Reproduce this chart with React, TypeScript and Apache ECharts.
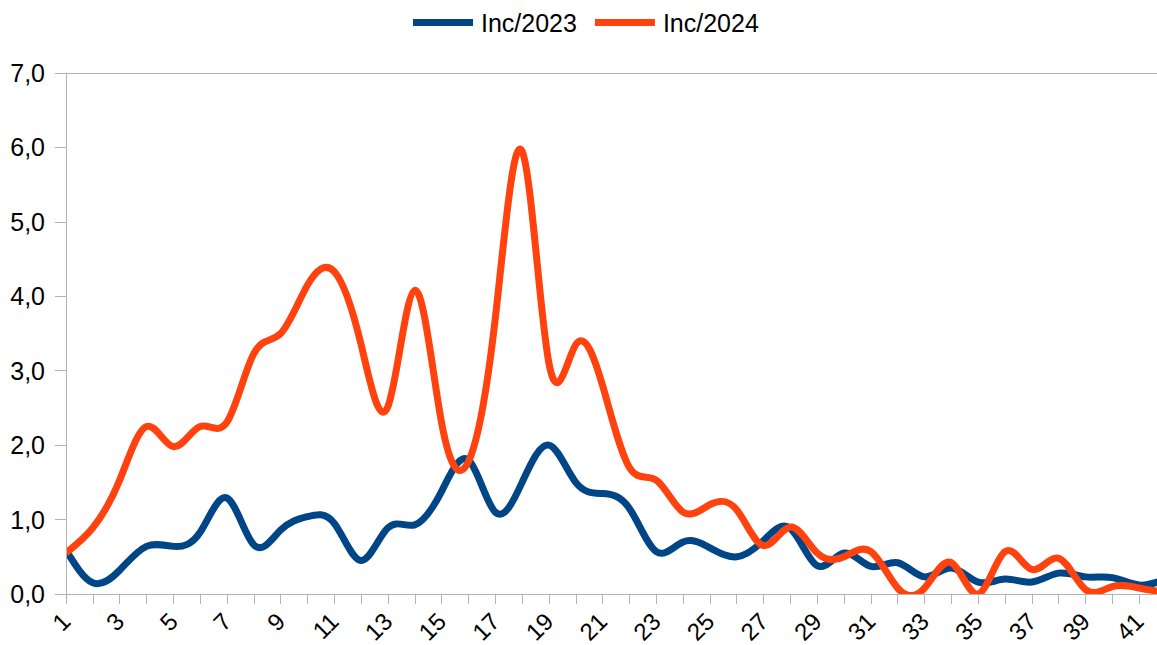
import React, { useEffect, useRef } from "react";
import * as echarts from "echarts";

const categories = [
  "1", "2", "3", "4", "5", "6", "7", "8", "9", "10",
  "11", "12", "13", "14", "15", "16", "17", "18", "19", "20",
  "21", "22", "23", "24", "25", "26", "27", "28", "29", "30",
  "31", "32", "33", "34", "35", "36", "37", "38", "39", "40",
  "41", "42",
];

const inc2023 = [
  0.59, 0.15, 0.32, 0.64, 0.64, 0.83, 1.29, 0.66, 0.86, 1.04,
  0.95, 0.45, 0.89, 0.93, 1.38, 1.8, 1.1, 1.5, 2.0, 1.5,
  1.35, 1.15, 0.57, 0.7, 0.62, 0.5, 0.72, 0.88, 0.38, 0.55,
  0.37, 0.42, 0.23, 0.35, 0.16, 0.2, 0.16, 0.28, 0.23, 0.22,
  0.12, 0.2,
];

const inc2024 = [
  0.55, 0.89, 1.53, 2.25, 1.98, 2.25, 2.31, 3.23, 3.5, 4.15,
  4.33, 3.35, 2.52, 4.08, 2.3, 1.78, 3.7, 5.95, 3.1, 3.35,
  2.8, 1.7, 1.53, 1.1, 1.2, 1.13, 0.65, 0.9, 0.55, 0.5,
  0.57, 0.08, 0.08, 0.42, 0.0, 0.57, 0.33, 0.48, 0.06, 0.1,
  0.08, 0.02,
];

const seriesNames = ["Inc/2023", "Inc/2024"];
const yMin = 0;
const yMax = 7;
const yStep = 1;

const BLUE = "#004586";
const ORANGE = "#ff420e";
const AXIS = "#b3b3b3";
const FONT = "'Liberation Sans', Arial, sans-serif";

// Natural cubic spline through pixel points (uniform x), returned as SVG path data.
function splinePath(pts: number[][]): string {
  const n = pts.length;
  if (n < 2) return "";
  const h = (pts[n - 1][0] - pts[0][0]) / (n - 1);
  const y = pts.map((p) => p[1]);
  const M = new Array(n).fill(0);
  const m = n - 2;
  if (m > 0) {
    const a = new Array(m).fill(1);
    const b = new Array(m).fill(4);
    const c = new Array(m).fill(1);
    const d = new Array(m);
    for (let i = 0; i < m; i++) {
      d[i] = (6 * (y[i + 2] - 2 * y[i + 1] + y[i])) / (h * h);
    }
    for (let i = 1; i < m; i++) {
      const w = a[i] / b[i - 1];
      b[i] -= w * c[i - 1];
      d[i] -= w * d[i - 1];
    }
    const sol = new Array(m);
    sol[m - 1] = d[m - 1] / b[m - 1];
    for (let i = m - 2; i >= 0; i--) sol[i] = (d[i] - c[i] * sol[i + 1]) / b[i];
    for (let i = 0; i < m; i++) M[i + 1] = sol[i];
  }
  let path = `M${pts[0][0]},${pts[0][1]}`;
  for (let i = 0; i < n - 1; i++) {
    const x0 = pts[i][0];
    const x1 = pts[i + 1][0];
    const hh = x1 - x0;
    const s = (y[i + 1] - y[i]) / hh;
    const d0 = s - (hh * (2 * M[i] + M[i + 1])) / 6;
    const d1 = s + (hh * (M[i] + 2 * M[i + 1])) / 6;
    const c1x = x0 + hh / 3;
    const c1y = y[i] + (d0 * hh) / 3;
    const c2x = x1 - hh / 3;
    const c2y = y[i + 1] - (d1 * hh) / 3;
    path += ` C${c1x},${c1y} ${c2x},${c2y} ${x1},${y[i + 1]}`;
  }
  return path;
}

function makeSeries(name: string, values: number[], color: string, z: number) {
  return {
    name,
    type: "custom",
    clip: true,
    z,
    itemStyle: { color },
    encode: { x: 0, y: 1 },
    data: values.map((v, i) => [i, v]),
    renderItem: (params: any, api: any) => {
      if (params.dataIndex !== 0) return null;
      const pts = values.map((v, i) => api.coord([i, v]));
      return {
        type: "path",
        shape: { pathData: splinePath(pts) },
        style: { fill: "none", stroke: color, lineWidth: 7 },
      };
    },
  };
}

export default function App() {
  const ref = useRef<HTMLDivElement>(null);

  useEffect(() => {
    if (!ref.current) return;
    const chart = echarts.init(ref.current, undefined, { renderer: "svg" });
    chart.setOption({
      animation: false,
      backgroundColor: "#ffffff",
      textStyle: { fontFamily: FONT },
      legend: {
        data: seriesNames,
        left: 408,
        top: 5,
        icon: "rect",
        itemWidth: 60,
        itemHeight: 7,
        itemGap: 18,
        textStyle: { fontSize: 25, color: "#000", fontFamily: FONT, padding: [0, 0, 0, 3] },
      },
      grid: {
        left: 66,
        right: -9,
        top: 73,
        bottom: 51,
        containLabel: false,
        outerBoundsMode: "none",
      },
      xAxis: [
        {
          type: "category",
          data: categories,
          boundaryGap: false,
          z: 10,
          axisLine: { show: true, lineStyle: { color: AXIS, width: 1 } },
          axisTick: { show: true, interval: 0, length: 10, lineStyle: { color: AXIS } },
          axisLabel: {
            interval: 1,
            rotate: 45,
            margin: 23,
            fontSize: 24,
            color: "#000",
            fontFamily: FONT,
          },
          splitLine: { show: false },
        },
        {
          type: "category",
          data: categories,
          boundaryGap: false,
          position: "top",
          z: 10,
          axisLine: { show: true, lineStyle: { color: AXIS, width: 1 } },
          axisTick: { show: false },
          axisLabel: { show: false },
          splitLine: { show: false },
        },
      ],
      yAxis: {
        type: "value",
        min: yMin,
        max: yMax,
        interval: yStep,
        z: 10,
        axisLine: { show: true, lineStyle: { color: AXIS, width: 1 } },
        axisTick: { show: true, length: 11, lineStyle: { color: AXIS } },
        axisLabel: {
          margin: 21,
          fontSize: 25,
          color: "#000",
          fontFamily: FONT,
          formatter: (v: number) => v.toFixed(1).replace(".", ","),
        },
        splitLine: { show: false },
      },
      series: [
        makeSeries(seriesNames[0], inc2023, BLUE, 2),
        makeSeries(seriesNames[1], inc2024, ORANGE, 3),
      ],
    });
    return () => chart.dispose();
  }, []);

  return (
    <div
      ref={ref}
      style={{ position: "absolute", left: 0, top: 0, width: 1157, height: 645 }}
    />
  );
}
